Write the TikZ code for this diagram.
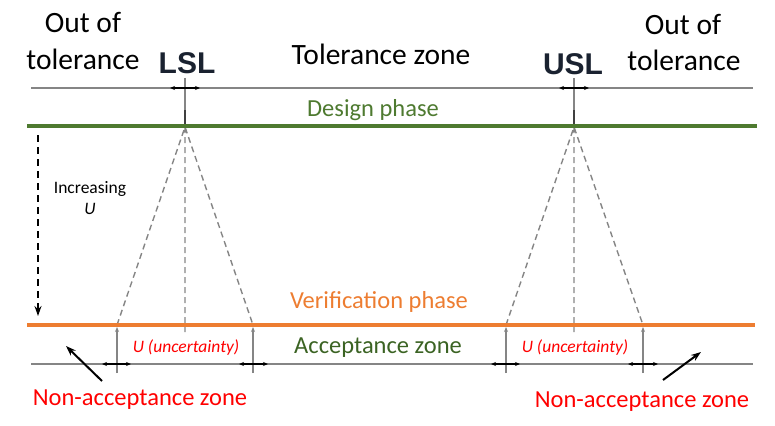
\documentclass[tikz,border=0pt]{standalone}
\usepackage{fontspec}
\setmainfont{Carlito}
\newfontfamily\limfont{Liberation Sans}
\usetikzlibrary{arrows.meta}
\definecolor{designgreen}{HTML}{4E7A30}
\definecolor{accgreen}{HTML}{3B6323}
\definecolor{verorange}{HTML}{ED7D31}
\definecolor{zonered}{HTML}{FF0000}
\definecolor{linegray}{HTML}{858585}
\definecolor{limnavy}{HTML}{1A2230}
\begin{document}
\begin{tikzpicture}[x=1pt,y=-1pt,line join=round,>={Stealth[length=10pt,width=7pt]},
 big/.style={font=\fontsize{29.5}{30}\selectfont,anchor=base},
 mid/.style={font=\fontsize{24.5}{26}\selectfont,anchor=base},
 small/.style={font=\fontsize{17.5}{18}\selectfont,anchor=base},
 limit/.style={font=\limfont\bfseries\fontsize{30}{30}\selectfont,anchor=base,text=limnavy},
 guide/.style={dashed,linegray,line width=1.4pt,dash pattern=on 6pt off 4pt},
 stub/.style={{Stealth[length=5pt,width=4pt]}-{Stealth[length=5pt,width=4pt]},line width=2.2pt},
 edge/.style={linegray,line width=1.5pt,-{Stealth[length=5pt,width=4pt]}}]
 \useasboundingbox (0,0) rectangle (775,425);
 \def \xl{27}\def \xr{757}
 % main lines
 \coordinate (tl) at (31,88); \coordinate (tr) at (753,88);
 \coordinate (bl) at (31,364); \coordinate (br) at (753,364);
 \coordinate (gl) at (\xl,126); \coordinate (gr) at (\xr,126);
 \coordinate (ol) at (\xl,325); \coordinate (or) at (755,325);
 \draw[linegray,line width=1.5pt] (tl)--(tr) (bl)--(br);
 % limits
 \coordinate (lslT) at (185,78); \coordinate (lslK) at (185,110); \coordinate (lslA) at (185,127);
 \coordinate (uslT) at (574,78); \coordinate (uslK) at (574,110); \coordinate (uslA) at (574,127);
 \coordinate (lslL) at (117,325); \coordinate (lslR) at (253,325); \coordinate (lslC) at (185,332);
 \coordinate (uslL) at (506,325); \coordinate (uslR) at (643,325); \coordinate (uslC) at (574,332);
 \draw[linegray,line width=1.5pt] (lslT)--(lslK) (uslT)--(uslK);
 \draw[line width=2.6pt,black!75] (lslK)--(lslA) (uslK)--(uslA);
 \draw[guide] (lslL)--(lslA)--(lslR) (lslA)--(lslC);
 \draw[guide] (uslL)--(uslA)--(uslR) (uslA)--(uslC);
 \draw[stub] (170,88)--(200,88);
 \draw[stub] (559,88)--(589,88);
 % uncertainty bounds
 \coordinate (lslLb) at (117,373); \coordinate (lslRb) at (253,373);
 \coordinate (uslLb) at (506,373); \coordinate (uslRb) at (643,373);
 \draw[edge] (lslLb)--(117,327); \draw[edge] (lslRb)--(253,327);
 \draw[edge] (uslLb)--(506,327); \draw[edge] (uslRb)--(643,327);
 \draw[stub] (102,364)--(131,364); \draw[stub] (239,364)--(268,364);
 \draw[stub] (491,364)--(520,364); \draw[stub] (628,364)--(658,364);
 \draw[designgreen,line width=4.8pt] (gl)--(gr);
 \draw[verorange,line width=4.8pt] (ol)--(or);
 % increasing U
 \coordinate (incA) at (38,135); \coordinate (incB) at (38,316);
 \draw[->,line width=2.4pt,dash pattern=on 7pt off 5pt] (incA)--(incB);
 % labels
 \node[big] (outL1) at (83,33) {Out of};
 \node[big] (outL2) at (83,70) {tolerance};
 \node[big] (outR1) at (683,35) {Out of};
 \node[big] (outR2) at (684,71) {tolerance};
 \node[limit] (lslLab) at (187,74) {LSL};
 \node[limit] (uslLab) at (573,75) {USL};
 \node[big] (tolz) at (381,65) {Tolerance zone};
 \node[mid,text=designgreen] (des) at (373,116) {Design phase};
 \node[mid,text=verorange] (ver) at (379,308) {Verification phase};
 \node[mid,text=accgreen] (acc) at (378,353) {Acceptance zone};
 \node[small] (incr) at (90,193) {Increasing};
 \node[small] (incrU) at (90,214) {\itshape U};
 \node[small,text=zonered] (uncL) at (186,352) {\itshape U (uncertainty)};
 \node[small,text=zonered] (uncR) at (575,352) {\itshape U (uncertainty)};
 \node[mid,text=zonered] (naL) at (140,405) {Non-acceptance zone};
 \node[mid,text=zonered] (naR) at (642,407) {Non-acceptance zone};
 % pointers
 \coordinate (pL1) at (102,381); \coordinate (pL2) at (66,346);
 \coordinate (pR1) at (663,380); \coordinate (pR2) at (701,352);
 \draw[->,line width=2pt] (pL1)--(pL2);
 \draw[->,line width=2pt] (pR1)--(pR2);
\end{tikzpicture}
\end{document}
